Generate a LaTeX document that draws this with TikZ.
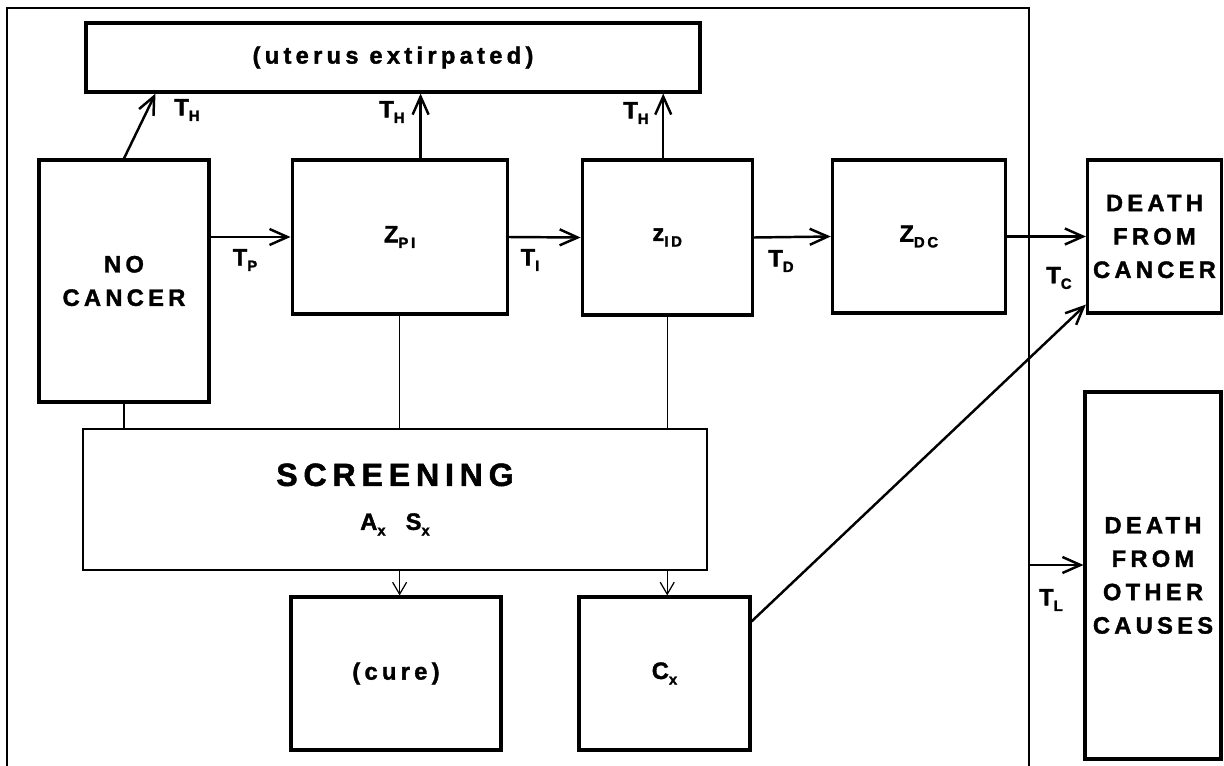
\documentclass[tikz,border=0pt]{standalone}
\usepackage{fontspec}
\setmainfont{Liberation Sans}
\newfontfamily\heavyfont{Liberation Sans}[LetterSpace=18, UprightFont=*-Bold, BoldFont=*-Bold, FakeBold=1.5]
\usetikzlibrary{arrows.meta, positioning}
\newcommand{\subx}[1]{\raisebox{-0.45ex}{\fontsize{8.5}{8.5}\selectfont #1}}

\begin{document}
\begin{tikzpicture}[
        x=0.02cm, y=-0.02cm,
        node distance=1.6cm,
        box/.style={rectangle, draw=black, line width=1.8pt, fill=none, align=center, inner sep=0pt,
            font=\heavyfont\bfseries\fontsize{13.5}{19}\selectfont},
        screenbox/.style={box, line width=1.1pt},
        lbl/.style={inner sep=0pt, font=\heavyfont\bfseries\fontsize{13.5}{16}\selectfont},
        arrow/.style={-{Straight Barb[length=3.6mm, width=3.2mm]}, line width=1.4pt, draw=black},
        thinarrow/.style={-{Straight Barb[length=2.4mm, width=2.8mm]}, line width=0.7pt, draw=black},
        link/.style={line width=0.7pt, draw=black},
        frame/.style={line width=0.85pt, draw=black}
    ]
        \useasboundingbox (0,0) rectangle (1224,766);

        % outer frame, open at the bottom
        \draw[frame] (7,766) -- (7,8) -- (1029,8) -- (1029,766);

        \node[box, minimum width=12.28cm, minimum height=1.38cm] (uterus) at (393,57.5) {(uterus extirpated)};

        \node[box, minimum width=3.4cm, minimum height=4.84cm] (nocancer) at (124,281) {NO\\CANCER};
        \node[box, minimum width=4.3cm, minimum height=3.08cm, right=1.6cm of nocancer.north east, anchor=north west] (zpi) {Z\subx{PI}};
        \node[box, minimum width=3.4cm, minimum height=3.1cm, right=1.44cm of zpi.north east, anchor=north west] (zid) {z\subx{ID}};
        \node[box, minimum width=3.46cm, minimum height=3.06cm, right=1.54cm of zid.north east, anchor=north west] (zdc) {Z\subx{DC}};
        \node[box, minimum width=2.68cm, minimum height=3.06cm, right=1.58cm of zdc.north east, anchor=north west] (dcancer) {DEATH\\FROM\\CANCER};
        \node[box, minimum width=2.72cm, minimum height=7.34cm] (dother) at (1153,575.5) {DEATH\\FROM\\OTHER\\CAUSES};

        \node[screenbox, minimum width=12.48cm, minimum height=2.82cm] (screen) at (395,499.5)
            {{\fontsize{18.3}{22}\selectfont SCREENING}\\[6pt]A\subx{x}\hspace{0.4cm}S\subx{x}};
        \node[box, minimum width=4.2cm, minimum height=3.06cm] (cure) at (396,673.5) {(cure)};
        \node[box, minimum width=3.42cm, minimum height=3.06cm] (cx) at (664.5,673.5) {C\subx{x}};

        % transition labels
        \node[lbl] (th1) at (187,110) {T\subx{H}};
        \node[lbl] (th2) at (392,112) {T\subx{H}};
        \node[lbl] (th3) at (636,113) {T\subx{H}};
        \node[lbl] (tp) at (245,260) {T\subx{P}};
        \node[lbl] (ti) at (530,260) {T\subx{I}};
        \node[lbl] (td) at (781,261) {T\subx{D}};
        \node[lbl] (tc) at (1059,278) {T\subx{C}};
        \node[lbl] (tl) at (1051,600) {T\subx{L}};

        \coordinate (zpitop) at ([xshift=0.42cm]zpi.north);
        \coordinate (zidtop) at ([xshift=-0.08cm]zid.north);
        \coordinate (tlstart) at (1029,565);

        \draw[arrow] (nocancer.north) -- ([xshift=1.42cm]uterus.south west);
        \draw[arrow] (zpitop) -- (zpitop |- uterus.south);
        \draw[arrow] (zidtop) -- (zidtop |- uterus.south);
        \draw[arrow] (zpi.west -| nocancer.east) -- (zpi.west);
        \draw[arrow] (zpi.east) -- (zid.west);
        \draw[arrow] (zid.east) -- (zdc.west);
        \draw[arrow] (zdc.east) -- (dcancer.west);
        \draw[arrow] ([yshift=-0.52cm]cx.north east) -- ([yshift=0.2cm]dcancer.south west);
        \draw[arrow] (tlstart) -- (tlstart -| dother.west);

        \draw[link] (nocancer.south) -- (nocancer.south |- screen.north);
        \draw[link] (zpi.south) -- (zpi.south |- screen.north);
        \draw[link] (zid.south) -- (zid.south |- screen.north);
        \draw[thinarrow] (zpi.south |- screen.south) -- (zpi.south |- cure.north);
        \draw[thinarrow] (zid.south |- screen.south) -- (zid.south |- cx.north);
    \end{tikzpicture}
\end{document}
